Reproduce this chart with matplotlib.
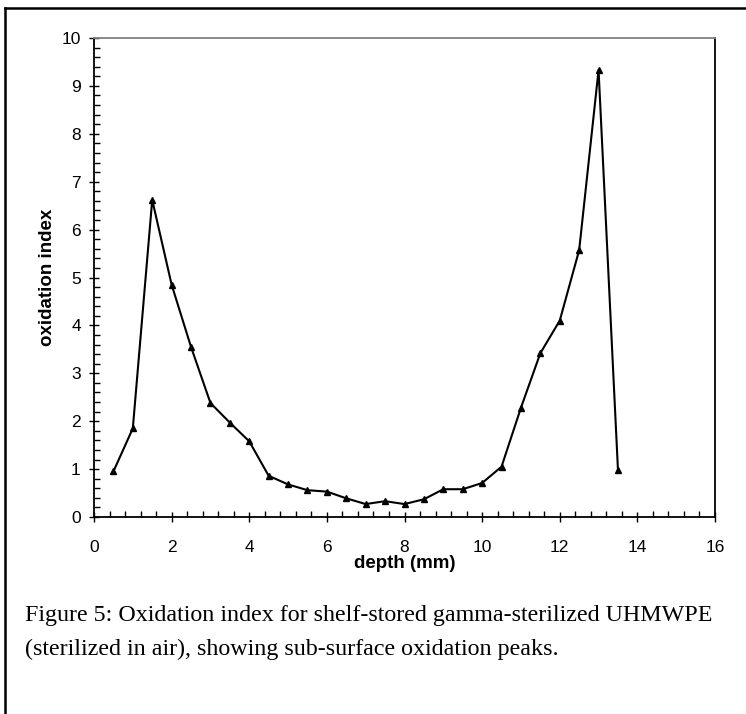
import matplotlib
matplotlib.use("Agg")
import matplotlib.pyplot as plt
from matplotlib.lines import Line2D
from matplotlib.ticker import MultipleLocator

depth = [0.5, 1.0, 1.5, 2.0, 2.5, 3.0, 3.5, 4.0, 4.5, 5.0, 5.5, 6.0, 6.5, 7.0,
         7.5, 8.0, 8.5, 9.0, 9.5, 10.0, 10.5, 11.0, 11.5, 12.0, 12.5, 13.0, 13.5]
oxidation = [0.95, 1.85, 6.62, 4.85, 3.55, 2.38, 1.97, 1.58, 0.86, 0.68, 0.56, 0.53,
             0.39, 0.27, 0.33, 0.27, 0.37, 0.58, 0.58, 0.71, 1.05, 2.28, 3.42, 4.10,
             5.57, 9.33, 0.98]
x_label = "depth (mm)"
y_label = "oxidation index"
caption_1 = "Figure 5: Oxidation index for shelf-stored gamma-sterilized UHMWPE"
caption_2 = "(sterilized in air), showing sub-surface oxidation peaks."

plt.rcParams['font.family'] = ['Liberation Sans', 'DejaVu Sans']

fig = plt.figure(figsize=(7.46, 7.14), dpi=100)
ax = fig.add_axes([94/746, 1-517/714, (715-94)/746, (517-38)/714])

ax.plot(depth, oxidation, color='black', lw=1.5, marker='^', markersize=5,
        markerfacecolor='black', markeredgecolor='black')

ax.set_xlim(0, 16)
ax.set_ylim(0, 10)
ax.xaxis.set_major_locator(MultipleLocator(2))
ax.xaxis.set_minor_locator(MultipleLocator(0.4))
ax.yaxis.set_major_locator(MultipleLocator(1))
ax.yaxis.set_minor_locator(MultipleLocator(0.2))
ax.tick_params(which='major', direction='inout', length=7, width=1, labelsize=12.5)
ax.tick_params(which='minor', direction='in', length=4, width=1)
ax.tick_params(axis='y', which='major', pad=6)
ax.tick_params(axis='x', which='major', pad=13)

for s in ['left', 'bottom', 'right']:
    ax.spines[s].set_color('black')
    ax.spines[s].set_linewidth(1.3)
ax.spines['top'].set_color('#808080')
ax.spines['top'].set_linewidth(1.3)

ax.set_xlabel(x_label, fontsize=13.5, fontweight='bold', labelpad=0)
ax.set_ylabel(y_label, fontsize=13.5, fontweight='bold', labelpad=4)

# figure frame (left and top)
fig.add_artist(Line2D([5/746, 5/746], [0, 1-8/714], transform=fig.transFigure, color='black', lw=1.8))
fig.add_artist(Line2D([5/746, 1], [1-8/714, 1-8/714], transform=fig.transFigure, color='black', lw=1.8))

fig.text(25/746, 1-616/714, caption_1, family=['Liberation Serif', 'DejaVu Serif'],
         fontsize=17.3, va='center', ha='left')
fig.text(25/746, 1-649/714, caption_2, family=['Liberation Serif', 'DejaVu Serif'],
         fontsize=17.3, va='center', ha='left')

fig.savefig("out.png", dpi=100)
